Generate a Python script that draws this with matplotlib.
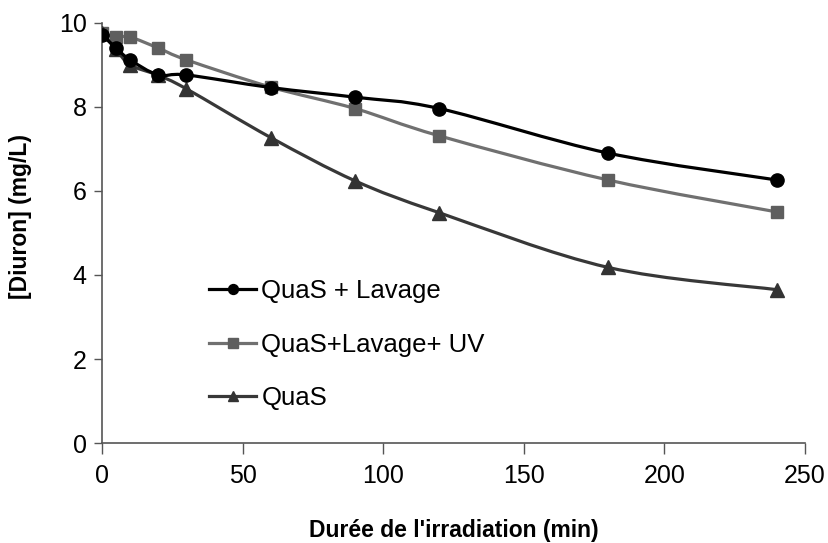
import numpy as np
import matplotlib
matplotlib.use('Agg')
import matplotlib.pyplot as plt
from matplotlib.path import Path
from matplotlib.patches import PathPatch
from matplotlib.lines import Line2D

plt.rcParams['font.family'] = ['Liberation Sans', 'DejaVu Sans']

# time (min)
temps = [0, 5, 10, 20, 30, 60, 90, 120, 180, 240]

# [Diuron] (mg/L)
quas_lavage = [9.72, 9.40, 9.12, 8.76, 8.76, 8.46, 8.23, 7.96, 6.90, 6.26]
quas_lavage_uv = [9.75, 9.66, 9.66, 9.40, 9.12, 8.47, 7.96, 7.31, 6.26, 5.50]
quas = [9.75, 9.37, 9.00, 8.75, 8.43, 7.27, 6.24, 5.48, 4.18, 3.65]

labels = ['QuaS + Lavage', 'QuaS+Lavage+ UV', 'QuaS']


def smooth_path(x, y):
    # Excel-like smoothed line : Catmull-Rom segments as cubic Bezier
    pts = np.column_stack([x, y]).astype(float)
    n = len(pts)
    verts = [pts[0]]
    codes = [Path.MOVETO]
    for i in range(n - 1):
        p0 = pts[max(i - 1, 0)]
        p1 = pts[i]
        p2 = pts[i + 1]
        p3 = pts[min(i + 2, n - 1)]
        c1 = p1 + (p2 - p0) / 6.0
        c2 = p2 - (p3 - p1) / 6.0
        verts += [c1, c2, p2]
        codes += [Path.CURVE4] * 3
    return Path(verts, codes)


fig = plt.figure(figsize=(8.29, 5.43), dpi=100)
ax = fig.add_axes([0.123, 0.184, 0.848, 0.774])

series = [
    (quas_lavage, 'o', '#000000', '#000000', 9.5, 8),
    (quas_lavage_uv, 's', '#707070', '#5e5e5e', 9, 6),
    (quas, '^', '#383838', '#333333', 10, 7),
]

handles = []
for (vals, mk, lc, mc, ms, z), lab in zip(series, labels):
    ax.add_patch(PathPatch(smooth_path(temps, vals), facecolor='none',
                           edgecolor=lc, lw=2.3, zorder=z))
    ax.plot(temps, vals, linestyle='none', marker=mk, ms=ms,
            color=mc, zorder=z + 0.5)
    handles.append(Line2D([], [], color=lc, lw=2.3, marker=mk, ms=ms * 0.75,
                          markerfacecolor=mc, markeredgecolor=mc))

ax.set_xlim(0, 250)
ax.set_ylim(0, 10)
ax.set_xticks([0, 50, 100, 150, 200, 250])
ax.set_yticks([0, 2, 4, 6, 8, 10])

for s in ['top', 'right']:
    ax.spines[s].set_visible(False)
for s in ['left', 'bottom']:
    ax.spines[s].set_color('#555555')
    ax.spines[s].set_linewidth(1.2)

ax.tick_params(axis='both', direction='out', colors='#555555', width=1.0,
               labelcolor='black', labelsize=18)
ax.tick_params(axis='x', length=8, pad=7)
ax.tick_params(axis='y', length=6, pad=5)

ax.set_xlabel("Durée de l'irradiation (min)", fontsize=16.5, fontweight='bold')
ax.set_ylabel('[Diuron] (mg/L)', fontsize=16.5, fontweight='bold')
ax.xaxis.set_label_coords(0.5, -0.18)
ax.yaxis.set_label_coords(-0.1, 0.54)

ax.legend(handles, labels, loc='upper left', bbox_to_anchor=(0.152, 0.39),
          frameon=False, fontsize=18.5, handlelength=1.85, handletextpad=0.2,
          labelspacing=1.15, borderaxespad=0, borderpad=0)

plt.savefig('out.png', dpi=100)
